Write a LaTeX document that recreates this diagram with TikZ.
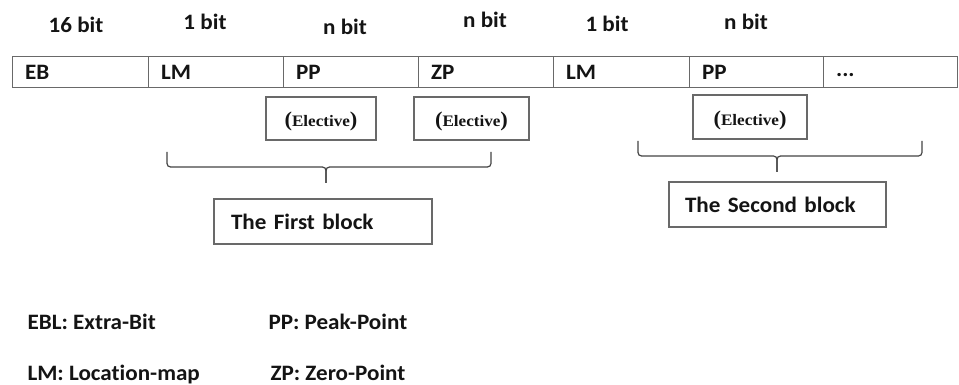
\documentclass[tikz,border=0pt]{standalone}
\usepackage{fontspec}
\setmainfont{Carlito}[FakeStretch=1.05, Ligatures=NoCommon]
\newfontfamily\electfont{Liberation Serif}[FakeStretch=1.07]
\definecolor{linegray}{RGB}{105,105,105}
\definecolor{inkblack}{RGB}{20,20,20}
\begin{document}
\begin{tikzpicture}[x=1pt,y=-1pt,
  every node/.style={text=inkblack},
  lbl/.style={font=\bfseries\fontsize{22}{25}\selectfont},
  bitlbl/.style={lbl, anchor=base},
  cell/.style={draw=linegray, line width=1.3pt, anchor=north west,
    minimum height=31pt, inner xsep=12.5pt, inner ysep=0pt, align=left, lbl},
  optbox/.style={draw=linegray, line width=1.2pt, inner sep=0pt,
    font=\electfont\bfseries\fontsize{16}{18}\selectfont},
  blockbox/.style={draw=linegray, line width=1.2pt, inner ysep=0pt,
    minimum height=45pt, align=left, font=\bfseries\fontsize{22}{26}\selectfont},
  brace/.style={draw=inkblack!80, line width=1.2pt, rounded corners=3.5pt},
  legend/.style={lbl, anchor=base west}]
\useasboundingbox (0,0) rectangle (959,385);

% bit widths above the fields
\node[bitlbl] (w1) at (76,33) {16 bit};
\node[bitlbl] (w2) at (205,30) {1 bit};
\node[bitlbl] (w3) at (345,35) {n bit};
\node[bitlbl] (w4) at (485,28) {n bit};
\node[bitlbl] (w5) at (607,32) {1 bit};
\node[bitlbl] (w6) at (746,30) {n bit};

% the field row
\node[cell, text width=111pt] (f1) at (12,56)  {EB};
\node[cell, text width=110pt] (f2) at (148,56) {LM};
\node[cell, text width=110pt] (f3) at (283,56) {PP};
\node[cell, text width=110pt] (f4) at (418,56) {ZP};
\node[cell, text width=111pt] (f5) at (553,56) {LM};
\node[cell, text width=109pt] (f6) at (689,56) {PP};
\node[cell, text width=109pt] (f7) at (823,56) {\raisebox{-3pt}[\height][\depth]{...}};

% optional fields
\newcommand{\bigpar}[1]{{\fontsize{21}{21}\selectfont#1}}
\newcommand{\elective}{\raisebox{-3pt}[\height][\depth]{\bigpar{(}Elective\bigpar{)}}}
\node[optbox, minimum width=110pt, minimum height=43pt] (o1) at (321,118.5) {\elective};
\node[optbox, minimum width=115pt, minimum height=43pt] (o2) at (471.5,118.5) {\elective};
\node[optbox, minimum width=114pt, minimum height=44pt] (o3) at (750,117) {\elective};

% block braces
\coordinate (b1l) at (167,152);
\coordinate (b1r) at (491,152);
\coordinate (b1m) at (326,167);
\coordinate (b1t) at (326,183);
\draw[brace] (b1l) -- (b1l |- b1m) -- (b1m) -- (b1t);
\draw[brace] (b1r) -- (b1r |- b1m) -- (b1m) -- (b1t);

\coordinate (b2l) at (638,141);
\coordinate (b2r) at (922,141);
\coordinate (b2m) at (777,156);
\coordinate (b2t) at (777,172);
\draw[brace] (b2l) -- (b2l |- b2m) -- (b2m) -- (b2t);
\draw[brace] (b2r) -- (b2r |- b2m) -- (b2m) -- (b2t);

% block names
\node[blockbox, inner xsep=17pt, text width=184pt] (k1) at (323,221.5) {The First block};
\node[blockbox, inner xsep=16pt, text width=185pt] (k2) at (777.5,204.5) {The Second block};

% abbreviations
\node[legend] (a1) at (24,329)  {EBL: Extra-Bit};
\node[legend] (a2) at (265,329) {PP: Peak-Point};
\node[legend] (a3) at (24,380)  {LM: Location-map};
\node[legend] (a4) at (267,380) {ZP: Zero-Point};
\end{tikzpicture}
\end{document}
